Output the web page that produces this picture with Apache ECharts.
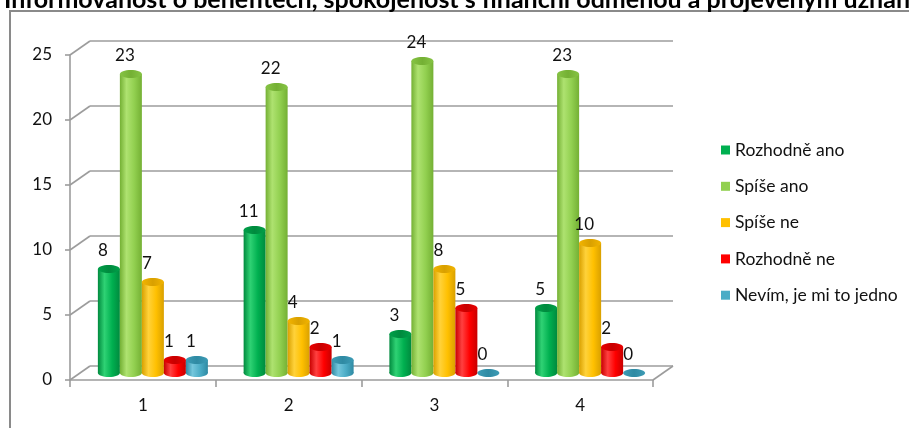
<!DOCTYPE html>
<html>
<head>
<meta charset="utf-8">
<script src="https://cdn.jsdelivr.net/npm/echarts@6/dist/echarts.min.js"></script>
<style>
  html, body { margin: 0; padding: 0; background: #fff; }
  #chart { width: 909px; height: 428px; }
</style>
</head>
<body>
<div id="chart"></div>
<script>
// Survey answers per question (1–4)
const categories = ['1', '2', '3', '4'];
const rozhodneAno = [8, 11, 3, 5];
const spiseAno = [23, 22, 24, 23];
const spiseNe = [7, 4, 8, 10];
const rozhodneNe = [1, 2, 5, 2];
const nevim = [1, 1, 0, 0];
const yTicks = [0, 5, 10, 15, 20, 25];

const seriesDefs = [
  { name: 'Rozhodně ano', data: rozhodneAno, base: '#00B050', dark: '#008a3e', light: '#2fd274', top: '#00a049' },
  { name: 'Spíše ano', data: spiseAno, base: '#92D050', dark: '#74b034', light: '#aee270', top: '#86c444' },
  { name: 'Spíše ne', data: spiseNe, base: '#FFC000', dark: '#d9a000', light: '#ffd23a', top: '#f2b400' },
  { name: 'Rozhodně ne', data: rozhodneNe, base: '#FF0000', dark: '#c80000', light: '#ff4040', top: '#ea0000' },
  { name: 'Nevím, je mi to jedno', data: nevim, base: '#4BACC6', dark: '#2f8aa3', light: '#74c6dc', top: '#3c9bb5' }
];

const FONT = 'Lato, "Open Sans", sans-serif';
const TEXT = '#111';
const GRID_LINE = '#9c9c9c';
const DEPTH_X = 20, DEPTH_Y = -14;
const BAR_W = 22;
const CAP_RY = 4;

function cylinderGradient(d) {
  return new echarts.graphic.LinearGradient(0, 0, 1, 0, [
    { offset: 0, color: d.dark },
    { offset: 0.3, color: d.light },
    { offset: 0.65, color: d.base },
    { offset: 1, color: d.dark }
  ]);
}
function capGradient(d) {
  return new echarts.graphic.LinearGradient(0, 0, 1, 0, [
    { offset: 0, color: d.top },
    { offset: 0.5, color: d.dark },
    { offset: 1, color: d.top }
  ]);
}

// one custom series per answer: cylinder body, rounded base, cap and value label
const series = seriesDefs.map((d, k) => ({
  name: d.name, type: 'custom', xAxisIndex: 2, yAxisIndex: 2,
  data: d.data.map((v, i) => [i, v]),
  encode: { x: 0, y: 1 },
  z: 3,
  renderItem: function (params, api) {
    const cat = api.value(0), v = api.value(1);
    const base = api.coord([cat, 0]);
    const top = api.coord([cat, v]);
    const cx = base[0] + (k - (seriesDefs.length - 1) / 2) * BAR_W;
    const rx = BAR_W / 2;
    const children = [];
    if (v > 0) {
      children.push({
        type: 'ellipse', shape: { cx: cx, cy: base[1], rx: rx, ry: CAP_RY },
        style: { fill: cylinderGradient(d) }
      });
      children.push({
        type: 'rect', shape: { x: cx - rx, y: top[1], width: BAR_W, height: base[1] - top[1] },
        style: { fill: cylinderGradient(d) }
      });
    }
    children.push({
      type: 'ellipse', shape: { cx: cx, cy: top[1], rx: rx, ry: CAP_RY },
      style: { fill: capGradient(d) }
    });
    children.push({
      type: 'text', z2: 10,
      style: {
        text: String(v), x: cx - 6, y: top[1] - 10,
        align: 'center', verticalAlign: 'bottom',
        fill: TEXT, fontSize: 17, fontFamily: FONT
      }
    });
    return { type: 'group', children: children };
  }
}));

// side wall and floor edges of the 3D frame
series.push({
  type: 'custom', xAxisIndex: 0, yAxisIndex: 0, silent: true, z: 1,
  data: yTicks.map(v => [v]),
  renderItem: function (params, api) {
    const v = api.value(0);
    const band = api.size([1, 0])[0];
    const p = api.coord([0, v]);
    const x0 = p[0] - band / 2;
    const children = [{
      type: 'line',
      shape: { x1: x0, y1: p[1], x2: x0 + DEPTH_X, y2: p[1] + DEPTH_Y },
      style: { stroke: GRID_LINE, lineWidth: 1.6 }
    }];
    if (v === 0) {
      const q = api.coord([categories.length - 1, 0]);
      const x1 = q[0] + band / 2;
      children.push({
        type: 'line',
        shape: { x1: x1, y1: q[1], x2: x1 + DEPTH_X, y2: q[1] + DEPTH_Y },
        style: { stroke: GRID_LINE, lineWidth: 1.6 }
      });
    }
    return { type: 'group', children: children };
  }
});

const chart = echarts.init(document.getElementById('chart'), null, { renderer: 'canvas' });
chart.setOption({
  animation: false,
  backgroundColor: '#fff',
  title: {
    text: 'Informovanost o benefitech, spokojenost s finanční odměnou a projeveným uznáním',
    left: -1, top: -18,
    textStyle: { fontSize: 25, fontWeight: 'bold', color: '#000', fontFamily: FONT }
  },
  graphic: [{
    type: 'rect', z: -10, silent: true,
    shape: { x: 10, y: 11, width: 1000, height: 600 },
    style: { fill: 'none', stroke: '#8a8a8a', lineWidth: 2 }
  }],
  legend: {
    orient: 'vertical', left: 716, top: 136,
    itemWidth: 9, itemHeight: 9, itemGap: 18.3,
    textStyle: { fontSize: 17.5, color: TEXT, fontFamily: FONT },
    data: seriesDefs.map(d => ({ name: d.name, icon: 'rect', itemStyle: { color: d.base } }))
  },
  grid: [
    { left: 70, top: 55, width: 583, height: 325 },   // front plane: axes
    { left: 90, top: 41, width: 583, height: 325 },   // back wall: gridlines
    { left: 80, top: 48, width: 583, height: 325 }    // cylinders
  ],
  xAxis: [
    {
      gridIndex: 0, type: 'category', data: categories,
      axisLine: { lineStyle: { color: GRID_LINE, width: 1.6 } },
      axisTick: { show: true, length: 7, lineStyle: { color: GRID_LINE, width: 1.6 } },
      axisLabel: { margin: 17, fontSize: 17, color: TEXT, fontFamily: FONT }
    },
    { gridIndex: 1, type: 'category', data: categories, show: false },
    { gridIndex: 2, type: 'category', data: categories, show: false }
  ],
  yAxis: [
    {
      gridIndex: 0, type: 'value', min: 0, max: 25, interval: 5,
      axisLine: { show: true, lineStyle: { color: GRID_LINE, width: 1.6 } },
      axisTick: { show: true, length: 5, lineStyle: { color: GRID_LINE, width: 1.6 } },
      splitLine: { show: false },
      axisLabel: { margin: 18, fontSize: 17, color: TEXT, fontFamily: FONT }
    },
    {
      gridIndex: 1, type: 'value', min: 0, max: 25, interval: 5,
      axisLine: { show: false }, axisTick: { show: false }, axisLabel: { show: false },
      splitLine: { show: true, lineStyle: { color: GRID_LINE, width: 1.6 } }
    },
    { gridIndex: 2, type: 'value', min: 0, max: 25, interval: 5, show: false, splitLine: { show: false } }
  ],
  series: series
});
</script>
</body>
</html>
